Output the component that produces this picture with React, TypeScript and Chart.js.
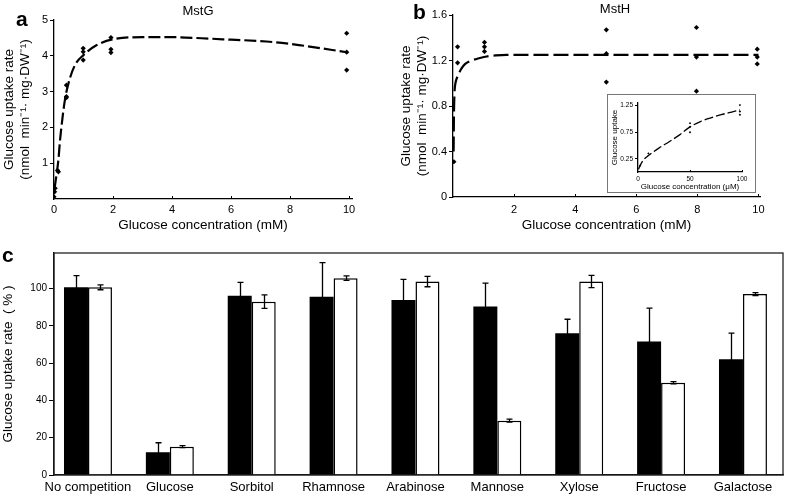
import React, { useEffect, useRef } from 'react';
import { Chart, registerables } from 'chart.js';

Chart.register(...registerables);

const FONT = '"Liberation Sans", Arial, Helvetica, sans-serif';
Chart.defaults.font.family = FONT;
Chart.defaults.color = '#000';

// ---------- Panel a : MstG ----------
const aPointX = [0, 0.02, 0.04, 0.12, 0.15, 0.42, 0.42, 0.42, 0.99, 0.99, 0.99, 1.93, 1.93, 1.93, 9.92, 9.92, 9.92];
const aPointY = [0.06, 0.2, 0.3, 0.8, 0.76, 2.83, 2.86, 3.18, 3.88, 4.11, 4.21, 4.09, 4.18, 4.51, 4.63, 4.1, 3.6];
const aCurveX = [0.02, 0.08, 0.15, 0.2, 0.25, 0.3, 0.37, 0.49, 0.71, 1.0, 1.45, 2.0, 3.0, 4.0, 5.0, 6.0, 7.2, 8.3, 9.92];
const aCurveY = [0.3, 0.65, 1.1, 1.6, 2.0, 2.35, 2.77, 3.23, 3.74, 4.02, 4.3, 4.46, 4.52, 4.52, 4.49, 4.45, 4.4, 4.3, 4.1];
const aTicksX = [0, 2, 4, 6, 8, 10];
const aTicksY = [1, 2, 3, 4, 5];

// ---------- Panel b : MstH ----------
const bPointX = [0.03, 0.15, 0.15, 1.03, 1.03, 1.03, 5.02, 5.02, 5.02, 7.97, 7.97, 7.97, 9.96, 9.96, 9.96];
const bPointY = [0.31, 1.32, 1.18, 1.36, 1.32, 1.28, 1.47, 1.26, 1.01, 1.49, 1.23, 0.93, 1.3, 1.23, 1.17];
const bCurveX = [0.02, 0.03, 0.05, 0.08, 0.12, 0.2, 0.28, 0.4, 0.61, 0.85, 1.1, 1.4, 1.75, 2.5, 4, 6, 8, 10];
const bCurveY = [0.4, 0.7, 0.92, 1.0, 1.04, 1.09, 1.13, 1.17, 1.2, 1.22, 1.235, 1.245, 1.25, 1.25, 1.25, 1.25, 1.25, 1.25];
const bTicksX = [2, 4, 6, 8, 10];
const bTicksY = [0, 0.4, 0.8, 1.2, 1.6];

// ---------- Inset (µM) ----------
const iPointX = [2, 10, 50, 50, 50, 98, 98, 98];
const iPointY = [0.12, 0.35, 0.92, 0.85, 0.75, 1.26, 1.14, 1.08];
const iCurveX = [0.5, 2, 5, 10, 20, 30, 40, 50, 60, 70, 80, 90, 98];
const iCurveY = [0.05, 0.12, 0.22, 0.31, 0.45, 0.57, 0.7, 0.85, 0.95, 1.02, 1.08, 1.13, 1.17];
const iTicksX = [0, 50, 100];
const iTicksY = [0.25, 0.75, 1.25];

// ---------- Panel c : competition ----------
const cCategories = ['No competition', 'Glucose', 'Sorbitol', 'Rhamnose', 'Arabinose', 'Mannose', 'Xylose', 'Fructose', 'Galactose'];
const cBlack = [100.6, 12.2, 96.1, 95.6, 93.8, 90.3, 76.0, 71.5, 62.0];
const cBlackErr = [6.3, 5.1, 7.2, 18.2, 11.1, 12.5, 7.5, 17.9, 14.0];
const cWhite = [100.6, 15.2, 92.9, 105.5, 103.7, 29.1, 103.7, 49.5, 97.0];
const cWhiteErr = [1.3, 0.5, 3.6, 1.2, 2.8, 0.8, 3.3, 0.6, 0.8];
const cTicksY = [0, 20, 40, 60, 80, 100];

const zip = (xs: number[], ys: number[]) => xs.map((x, i) => ({ x, y: ys[i] }));

type TextItem = { text: string; x: number; y: number; font: string; align?: CanvasTextAlign };

const makeTextPlugin = (items: TextItem[]) => ({
  id: 'texts',
  afterDraw(chart: any) {
    const ctx = chart.ctx;
    items.forEach((t) => {
      ctx.save();
      ctx.font = t.font;
      ctx.fillStyle = '#000';
      ctx.textAlign = t.align || 'left';
      ctx.textBaseline = 'alphabetic';
      ctx.fillText(t.text, t.x, t.y);
      ctx.restore();
    });
  },
});

const makeInTicksPlugin = (values: number[], len: number) => ({
  id: 'inTicks',
  afterDraw(chart: any) {
    const { ctx, chartArea } = chart;
    const x = chart.scales.x;
    ctx.save();
    ctx.strokeStyle = '#000';
    ctx.lineWidth = 1;
    ctx.beginPath();
    values.forEach((v) => {
      const px = Math.round(x.getPixelForValue(v)) + 0.5;
      ctx.moveTo(px, chartArea.bottom);
      ctx.lineTo(px, chartArea.bottom - len);
    });
    ctx.stroke();
    ctx.restore();
  },
});

const errorBarPlugin = {
  id: 'errBars',
  afterDatasetsDraw(chart: any) {
    const ctx = chart.ctx;
    const y = chart.scales.y;
    chart.data.datasets.forEach((ds: any, di: number) => {
      const errs: number[] = ds.errors;
      if (!errs) return;
      const meta = chart.getDatasetMeta(di);
      meta.data.forEach((bar: any, i: number) => {
        const v = ds.data[i].y;
        const e = errs[i];
        const top = y.getPixelForValue(v + e);
        const bot = y.getPixelForValue(v - e);
        const x = Math.round(bar.x) + 0.5;
        ctx.save();
        ctx.strokeStyle = '#000';
        ctx.lineWidth = 1.3;
        ctx.beginPath();
        ctx.moveTo(x, top);
        ctx.lineTo(x, bot);
        ctx.moveTo(x - 3, top);
        ctx.lineTo(x + 3, top);
        ctx.moveTo(x - 3, bot);
        ctx.lineTo(x + 3, bot);
        ctx.stroke();
        ctx.restore();
      });
    });
  },
};

const boxPlugin = {
  id: 'box',
  afterDraw(chart: any) {
    const { ctx, chartArea } = chart;
    ctx.save();
    ctx.strokeStyle = '#222';
    ctx.lineWidth = 1.3;
    ctx.strokeRect(chartArea.left, chartArea.top, chartArea.right - chartArea.left, chartArea.bottom - chartArea.top);
    ctx.restore();
  },
};

const setTicks = (vals: number[]) => (s: any) => {
  s.ticks = vals.map((v) => ({ value: v }));
};

function curveChart(opts: {
  pointsX: number[]; pointsY: number[]; curveX: number[]; curveY: number[];
  ticksX: number[]; ticksY: number[]; xMax: number; yMax: number;
  padding: any; yWidth: number; xHeight: number;
  yTitle: string | string[]; xTitle: string; titleSize: number; yTitlePad: number; xTitlePad: number;
  tickSize: number; pointR: number; lineW: number; dash: number[];
  texts: TextItem[]; inTicksLen: number; yTickLen: number; xTickPad: number;
}) {
  return {
    type: 'scatter' as const,
    data: {
      datasets: [
        {
          data: zip(opts.pointsX, opts.pointsY),
          pointStyle: 'rectRot',
          pointRadius: opts.pointR,
          backgroundColor: '#000',
          borderColor: '#000',
          borderWidth: 0,
          order: 0,
        },
        {
          data: zip(opts.curveX, opts.curveY),
          showLine: true,
          pointRadius: 0,
          borderColor: '#000',
          borderWidth: opts.lineW,
          borderDash: opts.dash,
          cubicInterpolationMode: 'monotone',
          fill: false,
          order: 1,
        },
      ],
    },
    options: {
      animation: false,
      responsive: false,
      maintainAspectRatio: false,
      layout: { padding: opts.padding },
      plugins: { legend: { display: false }, tooltip: { enabled: false } },
      scales: {
        x: {
          type: 'linear',
          min: 0,
          max: opts.xMax,
          afterBuildTicks: setTicks(opts.ticksX),
          afterFit: (s: any) => { s.height = opts.xHeight; },
          grid: { display: false, drawTicks: false },
          border: { display: true, color: '#000', width: 1.3 },
          ticks: { padding: opts.xTickPad, font: { size: opts.tickSize }, maxRotation: 0, autoSkip: false, callback: (v: any) => String(v) },
          title: { display: true, text: opts.xTitle, font: { size: opts.titleSize }, padding: { top: 0, bottom: opts.xTitlePad } },
        },
        y: {
          type: 'linear',
          min: 0,
          max: opts.yMax,
          afterBuildTicks: setTicks(opts.ticksY),
          afterFit: (s: any) => { s.width = opts.yWidth; },
          grid: { display: true, drawOnChartArea: false, drawTicks: true, tickLength: opts.yTickLen, color: '#000' },
          border: { display: true, color: '#000', width: 1.3 },
          ticks: { padding: 2, font: { size: opts.tickSize }, autoSkip: false, callback: (v: any) => String(v) },
          title: { display: true, text: opts.yTitle, font: { size: opts.titleSize }, padding: { top: opts.yTitlePad, bottom: 0 } },
        },
      },
    },
    plugins: [makeTextPlugin(opts.texts), makeInTicksPlugin(opts.ticksX.filter((v) => v > 0), opts.inTicksLen)],
  };
}

export default function App() {
  const aRef = useRef<HTMLCanvasElement>(null);
  const bRef = useRef<HTMLCanvasElement>(null);
  const iRef = useRef<HTMLCanvasElement>(null);
  const cRef = useRef<HTMLCanvasElement>(null);

  useEffect(() => {
    document.body.style.margin = '0';
    const charts: Chart[] = [];

    charts.push(new Chart(aRef.current as HTMLCanvasElement, curveChart({
      pointsX: aPointX, pointsY: aPointY, curveX: aCurveX, curveY: aCurveY,
      ticksX: aTicksX, ticksY: aTicksY, xMax: 10.1, yMax: 5,
      padding: { top: 20, right: 38, left: 0, bottom: 0 }, yWidth: 54, xHeight: 41,
      yTitle: ['Glucose uptake rate', '(nmol  min\u207B\u00B9\u00B7 mg\u00B7DW\u207B\u00B9)'], xTitle: 'Glucose concentration (mM)',
      titleSize: 13.5, yTitlePad: 1, xTitlePad: 7, tickSize: 11, pointR: 2.6, lineW: 2.2, dash: [12, 4],
      texts: [
        { text: 'a', x: 16, y: 26, font: `bold 21px ${FONT}` },
        { text: 'MstG', x: 198, y: 15, font: `13px ${FONT}`, align: 'center' },
      ],
      inTicksLen: 3, yTickLen: 4, xTickPad: 4,
    }) as any));

    charts.push(new Chart(bRef.current as HTMLCanvasElement, curveChart({
      pointsX: bPointX, pointsY: bPointY, curveX: bCurveX, curveY: bCurveY,
      ticksX: bTicksX, ticksY: bTicksY, xMax: 10.05, yMax: 1.6,
      padding: { top: 15, right: 25, left: 0, bottom: 0 }, yWidth: 63, xHeight: 43,
      yTitle: ['Glucose uptake rate', '(nmol  min\u207B\u00B9\u00B7 mg\u00B7DW\u207B\u00B9)'], xTitle: 'Glucose concentration (mM)',
      titleSize: 13.5, yTitlePad: 8, xTitlePad: 7, tickSize: 11, pointR: 2.6, lineW: 2.2, dash: [15, 5],
      texts: [
        { text: 'b', x: 23, y: 19, font: `bold 21px ${FONT}` },
        { text: 'MstH', x: 225, y: 13, font: `13px ${FONT}`, align: 'center' },
      ],
      inTicksLen: 3, yTickLen: 4, xTickPad: 6,
    }) as any));

    charts.push(new Chart(iRef.current as HTMLCanvasElement, curveChart({
      pointsX: iPointX, pointsY: iPointY, curveX: iCurveX, curveY: iCurveY,
      ticksX: iTicksX, ticksY: iTicksY, xMax: 100, yMax: 1.3,
      padding: { top: 8, right: 13, left: 0, bottom: 0 }, yWidth: 30, xHeight: 20,
      yTitle: 'Glucose uptake', xTitle: 'Glucose concentration (\u03BCM)',
      titleSize: 8, yTitlePad: 2, xTitlePad: 0, tickSize: 6.5, pointR: 1.2, lineW: 1.3, dash: [9, 3],
      texts: [],
      inTicksLen: 2, yTickLen: 3, xTickPad: 3,
    }) as any));

    charts.push(new Chart(cRef.current as HTMLCanvasElement, {
      type: 'bar',
      data: {
        datasets: [
          {
            data: zip(cCategories.map((_, i) => i), cBlack),
            backgroundColor: '#000',
            borderColor: '#000',
            borderWidth: 0,
            errors: cBlackErr,
          } as any,
          {
            data: zip(cCategories.map((_, i) => i), cWhite),
            backgroundColor: '#fff',
            borderColor: '#000',
            borderWidth: 1.5,
            errors: cWhiteErr,
          } as any,
        ],
      },
      options: {
        animation: false,
        responsive: false,
        maintainAspectRatio: false,
        layout: { padding: { top: 8, right: 2, left: 0, bottom: 0 } },
        datasets: { bar: { barPercentage: 1, categoryPercentage: 0.586 } },
        plugins: { legend: { display: false }, tooltip: { enabled: false } },
        scales: {
          x: {
            type: 'linear',
            min: -0.415,
            max: 8.489,
            offset: false,
            afterBuildTicks: setTicks(cCategories.map((_, i) => i)),
            afterFit: (s: any) => { s.height = 22; },
            grid: { display: false, drawTicks: false, offset: false },
            border: { display: true, color: '#000', width: 1.3 },
            ticks: { autoSkip: false, maxRotation: 0, minRotation: 0, padding: 5, font: { size: 13 }, callback: (v: any) => cCategories[v] ?? '' },
          },
          y: {
            type: 'linear',
            min: 0,
            max: 119,
            afterBuildTicks: setTicks(cTicksY),
            afterFit: (s: any) => { s.width = 54; },
            grid: { display: true, drawOnChartArea: false, drawTicks: true, tickLength: 5, color: '#000' },
            border: { display: true, color: '#000', width: 1.3 },
            ticks: { padding: 2, font: { size: 10 }, autoSkip: false, callback: (v: any) => String(v) },
            title: { display: true, text: 'Glucose uptake rate  ( % )', font: { size: 13.5 }, padding: { top: 0, bottom: 0 } },
          },
        },
      } as any,
      plugins: [errorBarPlugin, boxPlugin, makeTextPlugin([{ text: 'c', x: 2, y: 17, font: `bold 21px ${FONT}` }])],
    }));

    return () => charts.forEach((c) => c.destroy());
  }, []);

  return (
    <div style={{ position: 'fixed', left: 0, top: 0, width: 785, height: 497, background: '#fff', overflow: 'hidden' }}>
      <canvas ref={aRef} width={390} height={240} style={{ position: 'absolute', left: 0, top: 0 }} />
      <canvas ref={bRef} width={395} height={240} style={{ position: 'absolute', left: 390, top: 0 }} />
      <div style={{ position: 'absolute', left: 607, top: 94, width: 147, height: 97, border: '1px solid #777', background: '#fff' }}>
        <canvas ref={iRef} width={147} height={97} style={{ display: 'block' }} />
      </div>
      <canvas ref={cRef} width={785} height={252} style={{ position: 'absolute', left: 0, top: 245 }} />
    </div>
  );
}
